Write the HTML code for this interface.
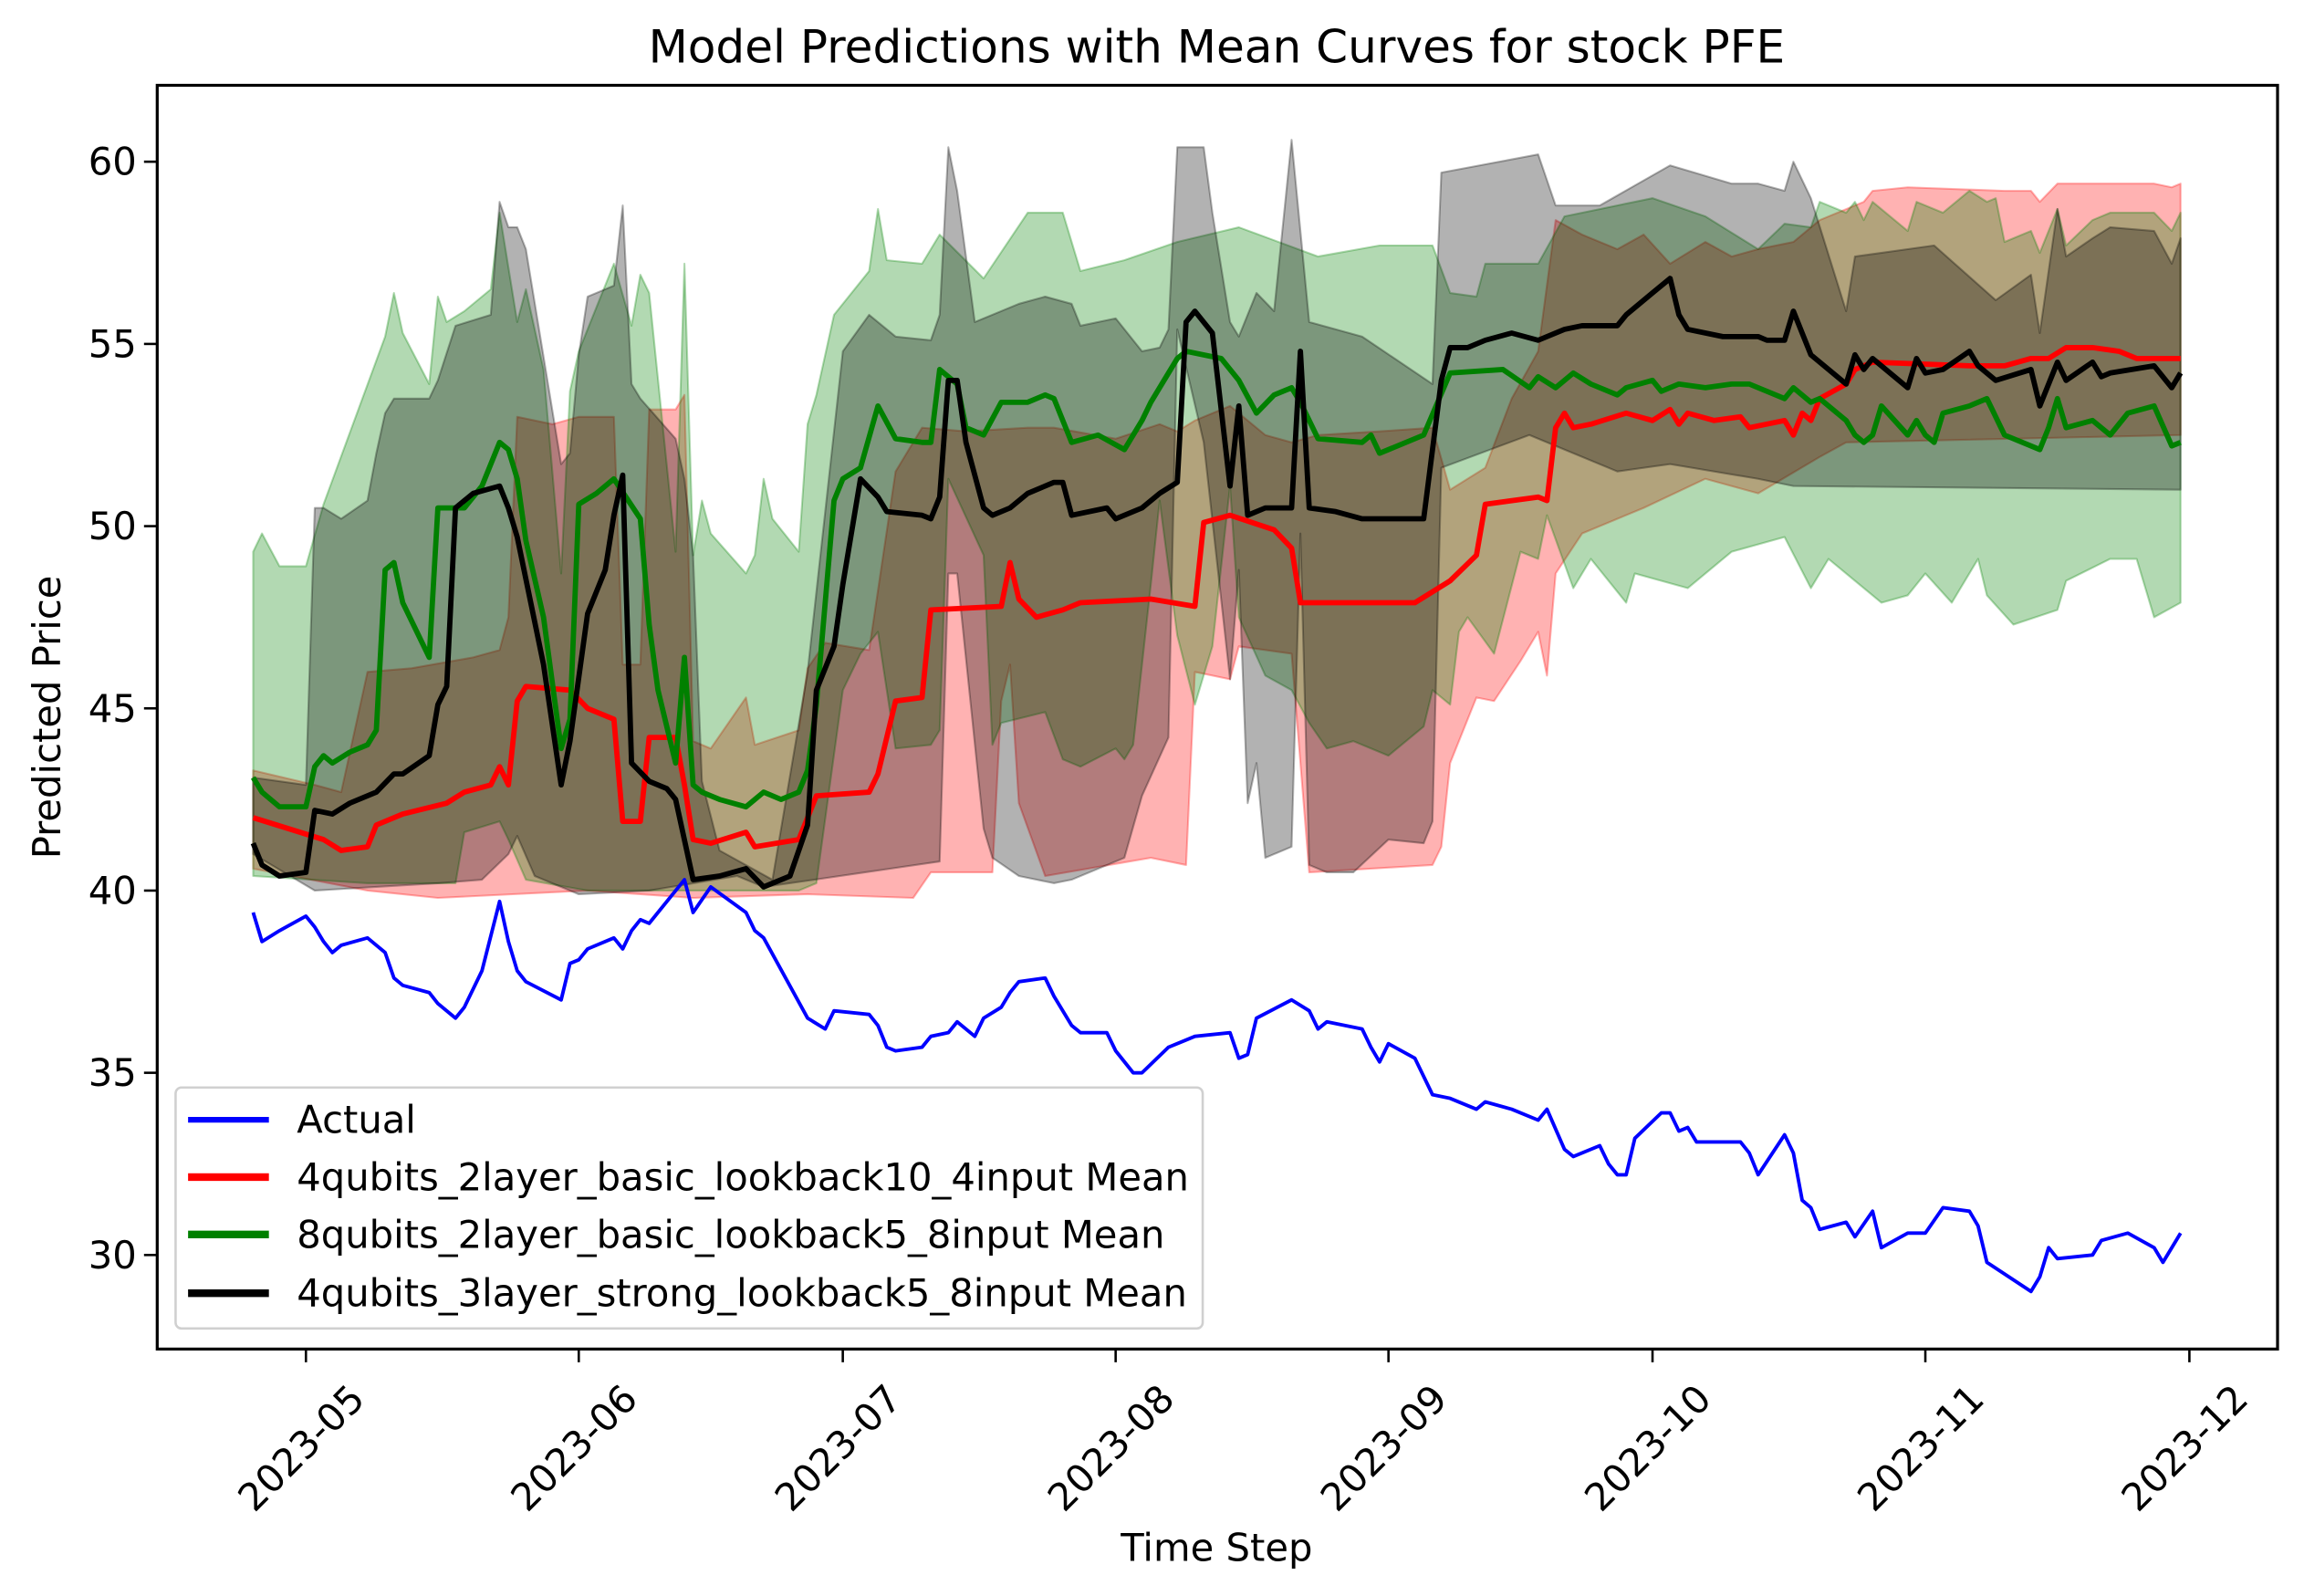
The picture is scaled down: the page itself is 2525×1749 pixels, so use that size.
<!DOCTYPE html>
<html><head><meta charset="utf-8"><style>
html,body{margin:0;padding:0;background:#fff;}
svg{display:block;font-family:"DejaVu Sans","Liberation Sans",sans-serif;}
</style></head><body>
<svg id="chart" width="2525" height="1749" viewBox="0 0 1568 1086" xmlns="http://www.w3.org/2000/svg">
<rect x="0" y="0" width="1568" height="1086" fill="#fff"/>
<text x="828" y="32" font-size="31.1" text-anchor="middle" dominant-baseline="central">Model Predictions with Mean Curves for stock PFE</text>
<defs><clipPath id="plotclip"><rect x="107" y="58" width="1443" height="860"/></clipPath></defs>
<g id="bands" clip-path="url(#plotclip)"></g>
<g id="lines" clip-path="url(#plotclip)"></g>
<rect x="107" y="58" width="1443" height="860" fill="none" stroke="#000" stroke-width="2"/>
<g id="xaxis"></g>
<g id="yaxis"></g>
<text x="828" y="1053" font-size="25.9" text-anchor="middle" dominant-baseline="central">Time Step</text>
<text x="32" y="488" font-size="25.9" text-anchor="middle" dominant-baseline="central" transform="rotate(-90 32 488)">Predicted Price</text>
<g>
<rect x="119.5" y="740" width="699" height="164" rx="4" fill="#fff" fill-opacity="0.8" stroke="#d0d0d0" stroke-width="1.6"/>
<g><line x1="128" y1="762" x2="183" y2="762" stroke="#0000ff" stroke-width="3.9"/><text x="202" y="762" font-size="25.9" dominant-baseline="central">Actual</text></g>
<g><line x1="128" y1="801" x2="183" y2="801" stroke="#ff0000" stroke-width="5.2"/><text x="202" y="801" font-size="25.9" dominant-baseline="central">4qubits_2layer_basic_lookback10_4input Mean</text></g>
<g><line x1="128" y1="840" x2="183" y2="840" stroke="#008000" stroke-width="5.2"/><text x="202" y="840" font-size="25.9" dominant-baseline="central">8qubits_2layer_basic_lookback5_8input Mean</text></g>
<g><line x1="128" y1="880" x2="183" y2="880" stroke="#000000" stroke-width="5.2"/><text x="202" y="880" font-size="25.9" dominant-baseline="central">4qubits_3layer_strong_lookback5_8input Mean</text></g>
</g>
</svg>
<script>
// Days are offsets from 2023-05-01
const monthTicks=[0,31,61,92,123,153,184,214];
const monthLabels=["2023-05","2023-06","2023-07","2023-08","2023-09","2023-10","2023-11","2023-12"];
const yTicks=[30,35,40,45,50,55,60];

const actualDays=[-6,-5,-3,0,1,2,3,4,7,9,10,11,14,15,17,18,20,22,23,24,25,29,30,31,32,35,36,37,38,39,43,44,46,50,51,52,57,59,60,64,65,66,67,70,71,73,74,76,77,79,80,81,84,85,87,88,91,92,94,95,98,100,101,105,106,107,108,112,114,115,116,120,121,122,123,126,128,130,133,134,137,140,141,143,144,147,148,149,150,151,154,155,156,157,158,163,164,165,168,169,170,171,172,175,176,178,179,182,184,186,189,190,191,196,197,198,199,203,204,207,210,211,213];
const actualVals=[39.4,38.6,38.9,39.3,39.0,38.6,38.3,38.5,38.7,38.3,37.6,37.4,37.2,36.9,36.5,36.8,37.8,39.7,38.6,37.8,37.5,37.0,38.0,38.1,38.4,38.7,38.4,38.9,39.2,39.1,40.3,39.4,40.1,39.4,38.9,38.7,36.5,36.2,36.7,36.6,36.3,35.7,35.6,35.7,36.0,36.1,36.4,36.0,36.5,36.8,37.2,37.5,37.6,37.1,36.3,36.1,36.1,35.6,35.0,35.0,35.7,35.9,36.0,36.1,35.4,35.5,36.5,37.0,36.7,36.2,36.4,36.2,35.7,35.3,35.8,35.4,34.4,34.3,34.0,34.2,34.0,33.7,34.0,32.9,32.7,33.0,32.5,32.2,32.2,33.2,33.9,33.9,33.4,33.5,33.1,33.1,32.8,32.2,33.3,32.8,31.5,31.3,30.7,30.9,30.5,31.2,30.2,30.6,30.6,31.3,31.2,30.8,29.8,29.0,29.4,30.2,29.9,30.0,30.4,30.6,30.2,29.8,30.6];

const redDays=[-6,2,4,7,8,11,16,18,21,22,23,24,25,30,32,35,36,38,39,42,43,44,46,50,51,56,58,64,65,67,70,71,79,80,81,83,86,88,96,101,102,105,110,112,113,120,126,130,133,134,140,141,142,143,144,146,150,153,155,156,157,160,163,164,168,169,170,171,172,175,176,178,189,193,196,198,200,203,206,208,213];
const redVals=[42.0,41.4,41.1,41.2,41.8,42.1,42.4,42.7,42.9,43.4,42.9,45.2,45.6,45.5,45.0,44.7,41.9,41.9,44.2,44.2,42.9,41.4,41.3,41.6,41.2,41.4,42.6,42.7,43.2,45.2,45.3,47.7,47.8,49.0,48.0,47.5,47.7,47.9,48.0,47.8,50.1,50.3,49.9,49.4,47.9,47.9,47.9,48.5,49.2,50.6,50.8,50.7,52.7,53.1,52.7,52.8,53.1,52.9,53.2,52.8,53.1,52.9,53.0,52.7,52.9,52.5,53.1,52.9,53.5,53.9,54.3,54.5,54.4,54.4,54.6,54.6,54.9,54.9,54.8,54.6,54.6];

const greenDays=[-6,-5,-3,0,1,2,3,5,7,8,9,10,11,14,15,18,20,22,23,24,25,27,29,30,31,33,35,38,39,40,42,43,44,45,47,50,52,54,56,57,58,60,61,63,65,67,70,71,72,74,75,77,79,82,84,85,87,90,93,95,96,99,100,104,106,108,110,112,113,115,120,121,122,127,130,136,139,140,142,144,146,149,150,153,154,156,159,162,164,168,169,171,172,175,176,177,178,179,182,183,184,185,186,189,191,193,196,197,198,199,200,203,205,207,210,212,213];
const greenVals=[43.1,42.7,42.3,42.3,43.4,43.7,43.5,43.8,44.0,44.4,48.8,49.0,47.9,46.4,50.5,50.5,51.1,52.3,52.1,51.3,49.6,47.5,43.9,44.7,50.6,50.9,51.3,50.2,47.3,45.5,43.5,46.4,42.9,42.7,42.5,42.3,42.7,42.5,42.7,43.3,45.1,50.7,51.3,51.6,53.3,52.4,52.3,52.3,54.3,53.9,52.7,52.5,53.4,53.4,53.6,53.5,52.3,52.5,52.1,52.9,53.4,54.6,54.8,54.6,54.0,53.1,53.6,53.8,53.4,52.4,52.3,52.5,52.0,52.5,54.2,54.3,53.8,54.1,53.8,54.2,53.9,53.6,53.8,54.0,53.7,53.9,53.8,53.9,53.9,53.5,53.8,53.4,53.5,52.9,52.5,52.3,52.5,53.3,52.5,52.9,52.5,52.3,53.1,53.3,53.5,52.5,52.2,52.1,52.7,53.5,52.7,52.9,52.5,53.1,53.3,52.2,52.3];

const blackDays=[-6,-5,-3,0,1,3,5,8,10,11,14,15,16,17,19,22,23,24,27,29,30,32,34,35,36,37,39,41,42,44,47,50,52,53,55,57,58,60,61,63,65,66,70,71,72,73,74,75,77,78,80,82,85,86,87,91,92,95,97,99,100,101,103,105,106,107,109,112,113,114,117,120,127,129,130,132,134,137,140,143,145,149,150,153,155,156,157,161,165,166,168,169,171,175,176,177,178,182,183,184,186,189,190,192,196,197,199,200,203,204,205,210,212,213];
const blackVals=[41.3,40.7,40.4,40.5,42.2,42.1,42.4,42.7,43.2,43.2,43.7,45.1,45.6,50.5,50.9,51.1,50.5,49.7,46.2,42.9,44.1,47.6,48.8,50.3,51.4,43.5,43.0,42.8,42.5,40.3,40.4,40.6,40.1,40.2,40.4,41.8,45.5,46.7,48.4,51.3,50.8,50.4,50.3,50.2,50.8,54.0,54.0,52.3,50.5,50.3,50.5,50.9,51.2,51.2,50.3,50.5,50.2,50.5,50.9,51.2,55.6,55.9,55.3,51.1,53.3,50.3,50.5,50.5,54.8,50.5,50.4,50.2,50.2,54.0,54.9,54.9,55.1,55.3,55.1,55.4,55.5,55.5,55.8,56.4,56.8,55.8,55.4,55.2,55.2,55.1,55.1,55.9,54.7,53.9,54.7,54.3,54.6,53.8,54.6,54.2,54.3,54.8,54.4,54.0,54.3,53.3,54.5,54.0,54.5,54.1,54.2,54.4,53.8,54.2];

const redUpDays=[-6,1,4,7,12,19,22,23,24,28,31,35,36,38,39,42,43,44,46,50,51,56,57,59,64,67,70,75,82,85,92,97,99,101,105,109,112,115,122,128,130,134,137,140,142,145,149,152,155,159,162,165,169,172,177,178,182,193,196,197,199,210,212,213];
const redUpVals=[43.3,42.9,42.7,46.0,46.1,46.4,46.6,47.5,53.0,52.8,53.0,53.0,46.2,46.2,53.2,53.2,53.6,44.1,43.9,45.3,44.0,44.4,46.1,46.8,46.6,51.5,52.7,52.6,52.7,52.7,52.4,52.8,52.6,52.9,53.3,52.5,52.3,52.5,52.6,52.7,51.0,51.6,53.5,54.8,58.4,58.0,57.6,58.0,57.2,57.8,57.4,57.6,57.8,58.4,58.9,59.2,59.3,59.2,59.2,58.9,59.4,59.4,59.3,59.4];
const redLoDays=[-6,7,15,32,44,57,69,71,78,79,80,81,84,96,100,101,105,106,112,114,128,129,130,133,135,138,140,141,142,145,152,159,165,172,175,213];
const redLoVals=[40.6,40.0,39.8,40.0,39.8,39.9,39.8,40.5,40.5,45.2,46.2,42.4,40.4,40.9,40.7,46.0,45.8,46.7,46.5,40.5,40.7,41.2,43.5,45.3,45.2,46.3,47.1,45.9,48.7,49.8,50.5,51.3,50.9,51.9,52.3,52.5];

const greenUpDays=[-6,-5,-3,0,2,9,10,11,14,15,16,18,21,22,24,25,27,29,30,31,35,37,38,39,42,43,44,45,46,50,51,52,53,56,57,58,60,64,65,66,70,72,77,82,86,88,93,99,106,115,122,128,130,133,134,140,143,153,159,165,168,171,172,175,176,177,178,182,183,186,189,191,192,193,196,197,199,200,203,205,210,212,213];
const greenUpVals=[49.3,49.8,48.9,48.9,50.6,55.2,56.4,55.3,53.9,56.3,55.6,55.9,56.5,58.6,55.6,56.5,54.3,48.7,53.7,54.8,57.2,55.5,56.9,56.4,49.3,57.2,49.2,50.7,49.8,48.7,49.2,51.3,50.2,49.3,52.8,53.6,55.8,57.0,58.7,57.3,57.2,58.0,56.8,58.6,58.6,57.0,57.3,57.8,58.2,57.4,57.7,57.7,56.4,56.3,57.2,57.2,58.5,59.0,58.5,57.6,58.3,58.2,58.9,58.6,58.9,58.4,58.9,58.1,58.9,58.6,59.2,58.9,59.0,57.8,58.1,57.5,58.7,57.7,58.4,58.6,58.6,58.1,58.6];
const greenLoDays=[-6,7,17,18,22,23,25,32,56,58,61,63,65,67,71,72,73,77,78,79,84,86,88,92,93,94,96,97,99,101,103,105,106,109,112,114,116,119,123,127,128,130,131,132,135,138,140,141,144,146,150,151,157,162,168,171,173,179,182,184,187,190,191,194,199,200,205,208,210,213];
const greenLoVals=[40.4,40.2,40.2,41.6,41.9,41.4,40.3,40.0,40.0,40.2,45.5,46.5,47.1,43.9,44.0,44.4,51.3,49.2,44.0,44.6,44.9,43.6,43.4,43.9,43.6,44.0,48.4,50.7,47.0,45.1,46.7,51.1,47.5,45.9,45.5,44.6,43.9,44.1,43.7,44.5,45.5,45.1,47.1,47.5,46.5,49.3,49.1,50.3,48.3,49.1,47.9,48.7,48.3,49.3,49.7,48.3,49.1,47.9,48.1,48.7,47.9,49.1,48.1,47.3,47.7,48.5,49.1,49.1,47.5,47.9];

const blackUpDays=[-6,0,1,2,4,7,8,9,10,14,15,17,21,22,23,24,25,29,30,31,32,35,36,37,38,42,43,44,45,47,53,57,61,64,67,71,72,73,74,76,81,84,87,88,92,95,97,98,99,102,103,105,106,108,110,112,114,120,128,129,140,142,147,155,162,165,168,169,171,175,176,185,192,196,197,199,200,203,205,210,212,213];
const blackUpVals=[43.1,42.9,50.5,50.5,50.2,50.7,52.0,53.1,53.5,53.5,54.0,55.5,55.8,58.9,58.2,58.2,57.6,51.7,52.0,54.7,56.3,56.6,58.8,53.9,53.5,52.4,51.3,49.2,43.0,41.1,40.3,46.0,54.8,55.8,55.2,55.1,55.8,60.4,59.2,55.6,56.1,56.3,56.1,55.5,55.7,54.8,54.9,55.4,60.4,60.4,58.6,55.6,55.2,56.4,55.9,60.6,55.6,55.2,53.9,59.7,60.2,58.8,58.8,59.9,59.4,59.4,59.2,60.0,59.0,55.9,57.4,57.7,56.2,56.9,55.3,58.7,57.4,57.9,58.2,58.1,57.2,57.9];
const blackLoDays=[-6,1,15,20,23,24,26,31,39,49,52,55,72,73,74,77,78,81,85,87,93,95,98,99,102,105,106,107,108,109,112,113,114,116,119,123,127,128,129,139,149,155,165,169,213];
const blackLoVals=[41.0,40.0,40.2,40.3,41.0,41.5,40.4,39.9,40.0,40.4,40.1,40.2,40.8,48.7,48.7,41.7,40.9,40.4,40.2,40.3,40.9,42.6,44.2,55.4,52.3,45.8,48.8,42.4,43.5,40.9,41.2,49.8,40.7,40.5,40.5,41.4,41.3,41.9,51.6,52.5,51.5,51.7,51.3,51.1,51.0];

const NS="http://www.w3.org/2000/svg";
function xScale(d){return 208.2+(d-0)*(1490-208.2)/214;}
function yScale(v){return 854-(v-30)*(854-110)/30;}
function mk(tag,attrs,parent){const e=document.createElementNS(NS,tag);for(const k in attrs)e.setAttribute(k,attrs[k]);parent.appendChild(e);return e;}
function pts(days,vals){return days.map((d,i)=>xScale(d).toFixed(1)+","+yScale(vals[i]).toFixed(1));}

const bands=document.getElementById("bands");
const lines=document.getElementById("lines");
function band(upD,upV,loD,loV,color,name){
  const up=pts(upD,upV), lo=pts(loD,loV).reverse();
  const p=mk("polygon",{points:up.concat(lo).join(" "),fill:color,"fill-opacity":"0.3",stroke:color,"stroke-opacity":"0.3","stroke-width":"1.3","stroke-linejoin":"round"},bands);
  
  
}
band(redUpDays,redUpVals,redLoDays,redLoVals,"#ff0000","red-model-band");
band(greenUpDays,greenUpVals,greenLoDays,greenLoVals,"#008000","green-model-band");
band(blackUpDays,blackUpVals,blackLoDays,blackLoVals,"#000000","black-model-band");

function line(days,vals,color,w,name){
  const l=mk("polyline",{points:pts(days,vals).join(" "),fill:"none",stroke:color,"stroke-width":w,"stroke-linejoin":"round","stroke-linecap":"butt"},lines);
  
  
}
line(actualDays,actualVals,"#0000ff","2.4","actual-line");
line(redDays,redVals,"#ff0000","3.6","red-model-mean-line");
line(greenDays,greenVals,"#008000","3.6","green-model-mean-line");
line(blackDays,blackVals,"#000000","3.6","black-model-mean-line");

const xa=document.getElementById("xaxis");
monthTicks.forEach((d,i)=>{
  const x=xScale(d);
  const t=mk("line",{x1:x,y1:918,x2:x,y2:927,stroke:"#000","stroke-width":"1.6"},xa);
  
  
  const tx=x+35, ty=947;
  const lb=mk("text",{x:tx,y:ty,"font-size":"25.9","text-anchor":"end","dominant-baseline":"central",transform:"rotate(-45 "+tx+" "+ty+")"},xa);
  lb.textContent=monthLabels[i];
  
  
});
const ya=document.getElementById("yaxis");
yTicks.forEach(v=>{
  const y=yScale(v);
  const t=mk("line",{x1:98,y1:y,x2:107,y2:y,stroke:"#000","stroke-width":"1.6"},ya);
  
  
  const lb=mk("text",{x:93,y:y,"font-size":"25.9","text-anchor":"end","dominant-baseline":"central"},ya);
  lb.textContent=String(v);
  
  
});
</script>
</body></html>
